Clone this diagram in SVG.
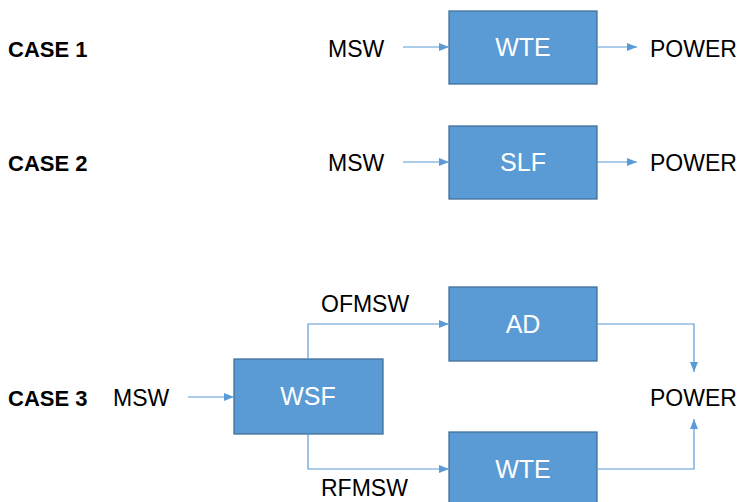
<svg xmlns="http://www.w3.org/2000/svg" width="739" height="502" viewBox="0 0 739 502">
<defs>
<marker id="arr" markerWidth="10" markerHeight="8" refX="10" refY="4" orient="auto" markerUnits="userSpaceOnUse">
<path d="M0,0 L10,4 L0,8 Z" fill="#5B9BD5"/>
</marker>
<style>
.box{fill:#5B9BD5;stroke:#41719C;stroke-width:1.3}
.bt{font-family:"Liberation Sans",Arial,sans-serif;font-size:25px;fill:#fff;text-anchor:middle}
.t{font-family:"Liberation Sans",Arial,sans-serif;font-size:23px;fill:#000}
.c{font-family:"Liberation Sans",Arial,sans-serif;font-size:22px;font-weight:bold;fill:#000}
.ln{fill:none;stroke:#5B9BD5;stroke-width:1.2;marker-end:url(#arr)}
</style>
</defs>
<rect width="739" height="502" fill="#fff"/>
<text class="c" x="8" y="57">CASE 1</text>
<text class="c" x="8" y="171">CASE 2</text>
<text class="c" x="8" y="406">CASE 3</text>
<g id="msw1"><text class="t" x="328" y="57">MSW</text></g>
<g id="power1"><text class="t" x="650" y="57">POWER</text></g>
<g id="msw2"><text class="t" x="328" y="171">MSW</text></g>
<g id="power2"><text class="t" x="650" y="171">POWER</text></g>
<g id="msw3"><text class="t" x="113" y="406">MSW</text></g>
<g id="power3"><text class="t" x="650" y="406">POWER</text></g>
<g id="ofmsw"><text class="t" x="321" y="312">OFMSW</text></g>
<g id="rfmsw"><text class="t" x="321" y="496">RFMSW</text></g>
<g id="wte1"><rect class="box" x="449" y="11" width="148" height="73"/><text class="bt" x="523" y="56">WTE</text></g>
<g id="slf"><rect class="box" x="449" y="126" width="148" height="73"/><text class="bt" x="523" y="171">SLF</text></g>
<g id="ad"><rect class="box" x="449" y="287" width="148" height="74"/><text class="bt" x="523" y="333">AD</text></g>
<g id="wsf"><rect class="box" x="234" y="359" width="149" height="75"/><text class="bt" x="308" y="405">WSF</text></g>
<g id="wte3"><rect class="box" x="449" y="432" width="148" height="75"/><text class="bt" x="523" y="478">WTE</text></g>
<g id="connectors">
<path class="ln" d="M403,47 H449"/>
<path class="ln" d="M597,47 H637"/>
<path class="ln" d="M403,162 H449"/>
<path class="ln" d="M597,162 H637"/>
<path class="ln" d="M188,397 H234"/>
<path class="ln" d="M308,359 V324 H449"/>
<path class="ln" d="M308,434 V469 H449"/>
<path class="ln" d="M597,324 H694 V372"/>
<path class="ln" d="M597,469 H694 V419"/>
</g>
</svg>
